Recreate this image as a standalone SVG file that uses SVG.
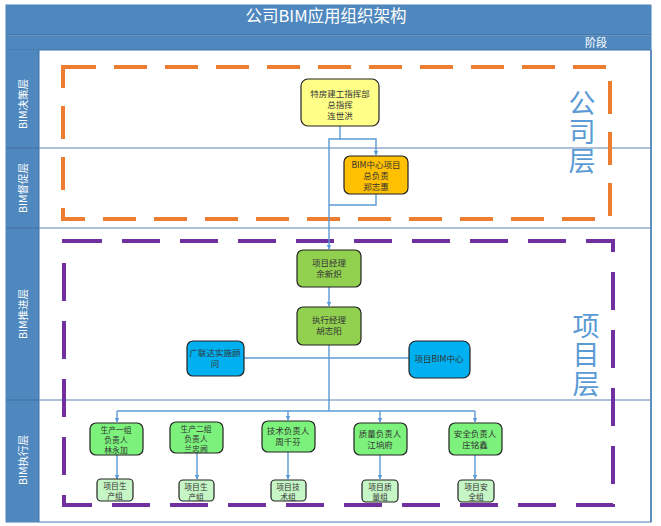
<svg xmlns="http://www.w3.org/2000/svg" width="661" height="526" viewBox="0 0 661 526">
<defs>
<marker id="arr" viewBox="0 0 10 10" refX="9" refY="5" markerWidth="5" markerHeight="5" orient="auto" markerUnits="userSpaceOnUse">
<path d="M0,0 L10,5 L0,10 z" fill="#5B9BD5"/>
</marker>
<style>
.t{font-family:"Noto Sans CJK SC","Liberation Sans",sans-serif;}
.lbl{font-size:8.5px;fill:#333;text-anchor:middle;}
.sm{font-size:7.8px;}
.lane{font-size:10.5px;fill:#fff;text-anchor:middle;}
.big{font-size:27px;fill:#5B9BD5;writing-mode:tb;letter-spacing:2px;}
.node{stroke:#222;stroke-width:1.2;}
.conn{fill:none;stroke:#5B9BD5;stroke-width:1.4;}
.sep{stroke:#5A83B4;stroke-width:1;}
</style>
</defs>
<rect x="0" y="0" width="661" height="526" fill="#fff"/>
<!-- frame -->
<rect x="6" y="5" width="645" height="517" fill="#fff" stroke="#4A7EB5" stroke-width="1"/>
<rect x="6" y="5" width="645" height="30" fill="#4F88BE"/>
<line x1="6" y1="35" x2="651" y2="35" stroke="#3F70A6" stroke-width="1.5"/>
<rect x="6" y="36" width="645" height="14" fill="#4F88BE"/>
<line x1="6" y1="50" x2="651" y2="50" stroke="#3F70A6" stroke-width="1"/>
<rect x="6" y="50" width="33" height="472" fill="#4F88BE"/>
<line x1="39" y1="50" x2="39" y2="522" stroke="#3F70A6" stroke-width="1"/>
<line x1="651" y1="50" x2="651" y2="522" stroke="#4A7EB5" stroke-width="1.5"/>
<text class="t" x="326" y="22" font-size="16.5" fill="#fff" text-anchor="middle">公司BIM应用组织架构</text>
<text class="t" x="596" y="47" font-size="11" fill="#fff" text-anchor="middle">阶段</text>
<!-- lane separators -->
<line class="sep" x1="6" y1="148" x2="651" y2="148"/>
<line class="sep" x1="6" y1="228" x2="651" y2="228"/>
<line class="sep" x1="6" y1="400" x2="651" y2="400"/>
<line x1="6" y1="148" x2="39" y2="148" stroke="#3F70A6"/>
<line x1="6" y1="228" x2="39" y2="228" stroke="#3F70A6"/>
<line x1="6" y1="400" x2="39" y2="400" stroke="#3F70A6"/>
<text class="t lane" transform="translate(27,104) rotate(-90)">BIM决策层</text>
<text class="t lane" transform="translate(27,188) rotate(-90)">BIM督促层</text>
<text class="t lane" transform="translate(27,314) rotate(-90)">BIM推进层</text>
<text class="t lane" transform="translate(27,460) rotate(-90)">BIM执行层</text>
<!-- dashed regions -->
<rect x="63" y="67" width="547" height="152" fill="none" stroke="#ED7D31" stroke-width="4" stroke-dasharray="33 18"/>
<rect x="64" y="241" width="549" height="264" fill="none" stroke="#7030A0" stroke-width="4" stroke-dasharray="38 20"/>
<text class="t big" x="582" y="89">公司层</text>
<text class="t big" x="586" y="312">项目层</text>
<!-- connectors -->
<g id="connectors">
<path class="conn" d="M340,126 V139 H376 V155" marker-end="url(#arr)"/>
<path class="conn" d="M340,139 H329 V249" marker-end="url(#arr)"/>
<path class="conn" d="M376,194 V205 H329"/>
<path class="conn" d="M329,287 V306" marker-end="url(#arr)"/>
<path class="conn" d="M329,345 V411"/>
<path class="conn" d="M244,358 H409"/>
<path class="conn" d="M117,411 H475"/>
<path class="conn" d="M117,411 V422" marker-end="url(#arr)"/>
<path class="conn" d="M288,411 V420" marker-end="url(#arr)"/>
<path class="conn" d="M380,411 V422" marker-end="url(#arr)"/>
<path class="conn" d="M475,411 V422" marker-end="url(#arr)"/>
<path class="conn" d="M117,455 V479" marker-end="url(#arr)"/>
<path class="conn" d="M197,453 V479" marker-end="url(#arr)"/>
<path class="conn" d="M288,452 V479" marker-end="url(#arr)"/>
<path class="conn" d="M380,455 V479" marker-end="url(#arr)"/>
<path class="conn" d="M475,455 V479" marker-end="url(#arr)"/>
</g>
<!-- nodes -->
<g id="n-tefang">
<rect class="node" x="301" y="79" width="78" height="47" rx="7" fill="#FFFF88"/>
<text class="t lbl" x="340" y="97">特房建工指挥部</text>
<text class="t lbl" x="340" y="108">总指挥</text>
<text class="t lbl" x="340" y="119">连世洪</text>
</g>
<g id="n-bimcenter">
<rect class="node" x="344" y="156" width="64" height="38" rx="6" fill="#FFC000"/>
<text class="t lbl" x="376" y="168">BIM中心项目</text>
<text class="t lbl" x="376" y="179">总负责</text>
<text class="t lbl" x="376" y="190">郑志惠</text>
</g>
<g id="n-pm">
<rect class="node" x="297" y="250" width="64" height="37" rx="6" fill="#92D050"/>
<text class="t lbl" x="329" y="266">项目经理</text>
<text class="t lbl" x="329" y="277">余新炽</text>
</g>
<g id="n-em">
<rect class="node" x="297" y="307" width="64" height="38" rx="6" fill="#92D050"/>
<text class="t lbl" x="329" y="323">执行经理</text>
<text class="t lbl" x="329" y="334">胡志阳</text>
</g>
<g id="n-glodon">
<rect class="node" x="187" y="341" width="57" height="35" rx="6" fill="#00B0F0"/>
<text class="t lbl" x="215" y="356">广联达实施顾</text>
<text class="t lbl" x="215" y="367">问</text>
</g>
<g id="n-projbim">
<rect class="node" x="409" y="341" width="61" height="37" rx="7" fill="#00B0F0"/>
<text class="t lbl" x="439" y="362">项目BIM中心</text>
</g>
<g id="n-sc1">
<rect class="node" x="90" y="423" width="53" height="32" rx="6" fill="#7CF27C"/>
<text class="t lbl sm" x="116" y="433">生产一组</text>
<text class="t lbl sm" x="116" y="443">负责人</text>
<text class="t lbl sm" x="116" y="453">林永加</text>
</g>
<g id="n-sc2">
<rect class="node" x="170" y="422" width="53" height="31" rx="6" fill="#7CF27C"/>
<text class="t lbl sm" x="196" y="432">生产二组</text>
<text class="t lbl sm" x="196" y="442">负责人</text>
<text class="t lbl sm" x="196" y="452">兰忠闻</text>
</g>
<g id="n-tech">
<rect class="node" x="262" y="421" width="53" height="31" rx="6" fill="#7CF27C"/>
<text class="t lbl" x="288" y="434">技术负责人</text>
<text class="t lbl" x="288" y="445">周千芬</text>
</g>
<g id="n-qual">
<rect class="node" x="354" y="423" width="53" height="32" rx="6" fill="#7CF27C"/>
<text class="t lbl" x="380" y="437">质量负责人</text>
<text class="t lbl" x="380" y="448">江垧府</text>
</g>
<g id="n-safe">
<rect class="node" x="449" y="423" width="53" height="32" rx="6" fill="#7CF27C"/>
<text class="t lbl" x="475" y="437">安全负责人</text>
<text class="t lbl" x="475" y="448">庄铭鑫</text>
</g>
<g id="n-g1">
<rect class="node" x="97" y="479" width="36" height="22" rx="4" fill="#C6F5C6"/>
<text class="t lbl sm" x="115" y="489">项目生</text>
<text class="t lbl sm" x="115" y="499">产组</text>
</g>
<g id="n-g2">
<rect class="node" x="179" y="480" width="35" height="21" rx="4" fill="#C6F5C6"/>
<text class="t lbl sm" x="196" y="490">项目生</text>
<text class="t lbl sm" x="196" y="500">产组</text>
</g>
<g id="n-g3">
<rect class="node" x="271" y="480" width="35" height="21" rx="4" fill="#C6F5C6"/>
<text class="t lbl sm" x="288" y="490">项目技</text>
<text class="t lbl sm" x="288" y="500">术组</text>
</g>
<g id="n-g4">
<rect class="node" x="362" y="480" width="36" height="22" rx="4" fill="#C6F5C6"/>
<text class="t lbl sm" x="380" y="490">项目质</text>
<text class="t lbl sm" x="380" y="500">量组</text>
</g>
<g id="n-g5">
<rect class="node" x="458" y="480" width="36" height="22" rx="4" fill="#C6F5C6"/>
<text class="t lbl sm" x="476" y="490">项目安</text>
<text class="t lbl sm" x="476" y="500">全组</text>
</g>
</svg>
